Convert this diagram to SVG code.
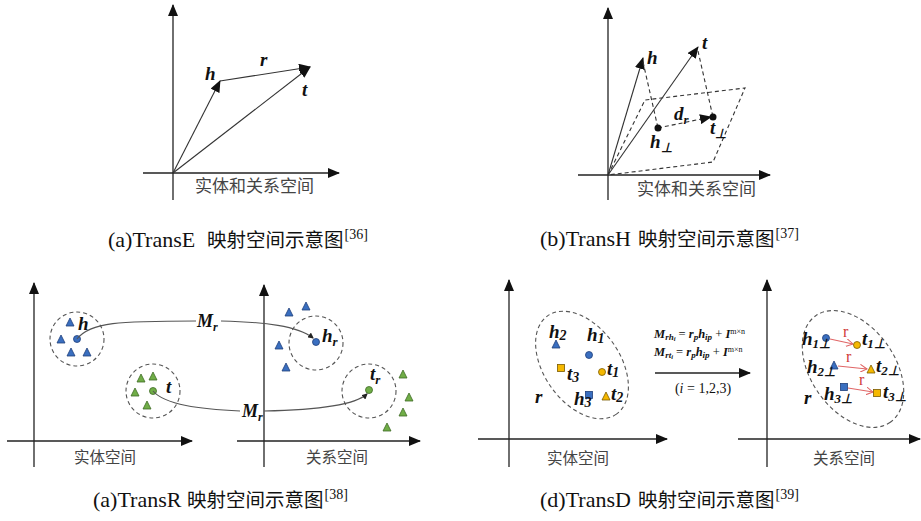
<svg xmlns="http://www.w3.org/2000/svg" width="921" height="521" viewBox="0 0 921 521">
<style>
.ax{stroke:#222;stroke-width:1.3;fill:none}
.vec{stroke:#333;stroke-width:1.1;fill:none}
.dash{stroke:#333;stroke-width:1.1;fill:none;stroke-dasharray:4 3}
.circ{stroke:#555;stroke-width:1.1;fill:none;stroke-dasharray:4 3}
.cur{stroke:#555;stroke-width:1.1;fill:none}
.red{stroke:#e06666;stroke-width:1.1;fill:none}
.cn{font-family:"Noto Sans CJK SC",sans-serif;fill:#444}
.cap{font-family:"Liberation Serif","Noto Sans CJK SC",serif;font-size:22px;fill:#111}
.capc{font-family:"Noto Sans CJK SC",sans-serif;font-size:19.5px;fill:#111}
.m{font-family:"Liberation Serif",serif;font-weight:bold;font-style:italic;fill:#111}
.bl{fill:#3a6fc0;stroke:#1f3f7a;stroke-width:0.8}
.gr{fill:#70ad47;stroke:#3d6b24;stroke-width:0.8}
.ye{fill:#f5b800;stroke:#7a5a00;stroke-width:0.8}
</style>
<defs>
<marker id="ah" viewBox="0 0 12 10" markerWidth="12" markerHeight="10" refX="11" refY="5" orient="auto" markerUnits="userSpaceOnUse"><path d="M0,0 L12,5 L0,10 z" fill="#111"/></marker>
<marker id="vh" viewBox="0 0 12 10" markerWidth="12" markerHeight="10" refX="11" refY="5" orient="auto" markerUnits="userSpaceOnUse"><path d="M0,0 L12,5 L0,10 z" fill="#111"/></marker>
<marker id="sm" viewBox="0 0 6 6" markerWidth="6" markerHeight="6" refX="5" refY="3" orient="auto" markerUnits="userSpaceOnUse"><path d="M0,0 L6,3 L0,6 z" fill="#222"/></marker>
<marker id="ro" viewBox="0 0 8 8" markerWidth="8" markerHeight="8" refX="7" refY="4" orient="auto" markerUnits="userSpaceOnUse"><path d="M0,0 L7,4 L0,8" fill="none" stroke="#e06666" stroke-width="1"/></marker>
</defs>

<g id="transE">
<line class="ax" x1="173" y1="200" x2="173" y2="5" marker-end="url(#ah)"/>
<line class="ax" x1="143" y1="173" x2="339" y2="173" marker-end="url(#ah)"/>
<g id="connectorsE">
<line class="vec" x1="173" y1="173" x2="220" y2="81" marker-end="url(#vh)"/>
<line class="vec" x1="173" y1="173" x2="310" y2="67" marker-end="url(#vh)"/>
<line class="vec" x1="220" y1="81" x2="310" y2="67" marker-end="url(#vh)"/>
</g>
<text class="m" x="205" y="80" font-size="19">h</text>
<text class="m" x="260" y="66" font-size="19">r</text>
<text class="m" x="302" y="96" font-size="19">t</text>
<text class="cn" x="195" y="192" font-size="17">实体和关系空间</text>
</g>

<g id="transH">
<line class="ax" x1="608" y1="200" x2="608" y2="8" marker-end="url(#ah)"/>
<line class="ax" x1="578" y1="175" x2="770" y2="175" marker-end="url(#ah)"/>
<path class="dash" d="M608,175 L645,100 L745,88 L713,162 Z"/>
<g id="connectorsH">
<line class="vec" x1="608" y1="175" x2="643" y2="58" marker-end="url(#vh)"/>
<line class="vec" x1="608" y1="175" x2="698" y2="47" marker-end="url(#vh)"/>
<line class="dash" x1="643" y1="62" x2="658" y2="128"/>
<line class="dash" x1="698" y1="51" x2="713" y2="117"/>
<line class="dash" x1="658" y1="128" x2="711" y2="117" marker-end="url(#vh)"/>
</g>
<circle cx="658" cy="128" r="3.5" fill="#111"/>
<circle cx="713" cy="117" r="3.5" fill="#111"/>
<text class="m" x="647" y="64" font-size="19">h</text>
<text class="m" x="702" y="49" font-size="19">t</text>
<text class="m" x="674" y="120" font-size="19">d<tspan font-size="13" dy="4">r</tspan></text>
<text class="m" x="650" y="148" font-size="19">h<tspan font-size="13" dy="4">⊥</tspan></text>
<text class="m" x="710" y="134" font-size="19">t<tspan font-size="13" dy="4">⊥</tspan></text>
<text class="cn" x="637" y="195" font-size="17">实体和关系空间</text>
</g>

<g id="transR-entity">
<line class="ax" x1="34" y1="467" x2="34" y2="283" marker-end="url(#ah)"/>
<line class="ax" x1="7" y1="441" x2="192" y2="441" marker-end="url(#ah)"/>
<circle class="circ" cx="77" cy="339" r="27"/>
<path class="bl" d="M70,318 L74,326 L66,326 Z M61,335 L65,343 L57,343 Z M71,348 L75,356 L67,356 Z M87,348 L91,356 L83,356 Z"/>
<circle class="bl" cx="77" cy="339" r="3.5"/>
<text class="m" x="78" y="330" font-size="19">h</text>
<circle class="circ" cx="153" cy="391" r="27"/>
<path class="gr" d="M141,374 L145,382 L137,382 Z M153,372 L157,380 L149,380 Z M135,388 L139,396 L131,396 Z M147,401 L151,409 L143,409 Z"/>
<circle class="gr" cx="153" cy="391" r="3.5"/>
<text class="m" x="166" y="393" font-size="19">t</text>
<text class="cn" x="74" y="463" font-size="15.5">实体空间</text>
</g>

<g id="transR-relation">
<line class="ax" x1="264" y1="467" x2="264" y2="285" marker-end="url(#ah)"/>
<line class="ax" x1="237" y1="441" x2="420" y2="441" marker-end="url(#ah)"/>
<circle class="circ" cx="316" cy="343" r="27"/>
<path class="bl" d="M289,308 L293,316 L285,316 Z M306,302 L310,310 L302,310 Z M279,341 L283,349 L275,349 Z M286,363 L290,371 L282,371 Z"/>
<circle class="bl" cx="316" cy="342" r="3.5"/>
<text class="m" x="322" y="342" font-size="19">h<tspan font-size="13" dy="4">r</tspan></text>
<circle class="circ" cx="369" cy="391" r="27"/>
<path class="gr" d="M403,370 L407,378 L399,378 Z M409,393 L413,401 L405,401 Z M403,408 L407,416 L399,416 Z M387,423 L391,431 L383,431 Z"/>
<circle class="gr" cx="369" cy="390" r="3.5"/>
<text class="m" x="370" y="380" font-size="19">t<tspan font-size="13" dy="4">r</tspan></text>
<text class="cn" x="306" y="463" font-size="15.5">关系空间</text>
</g>

<g id="connectorsR">
<path class="cur" d="M77,339 C90,322 120,321 196,321"/>
<path class="cur" d="M221,321 C265,322 298,326 313,338" marker-end="url(#sm)"/>
<path class="cur" d="M153,391 C165,405 200,409 240,411"/>
<path class="cur" d="M264,411 C320,410 355,405 367,394" marker-end="url(#sm)"/>
<text class="m" x="197" y="327" font-size="18">M<tspan font-size="12" dy="4">r</tspan></text>
<text class="m" x="242" y="417" font-size="18">M<tspan font-size="12" dy="4">r</tspan></text>
</g>

<g id="transD-entity">
<line class="ax" x1="509" y1="467" x2="509" y2="280" marker-end="url(#ah)"/>
<line class="ax" x1="478" y1="439" x2="667" y2="439" marker-end="url(#ah)"/>
<ellipse class="circ" cx="582" cy="365" rx="60" ry="38" transform="rotate(55 582 365)"/>
<path class="bl" d="M556,340 L560,348 L552,348 Z"/>
<circle class="bl" cx="589" cy="355" r="3.5"/>
<circle class="ye" cx="602" cy="372" r="3.5"/>
<rect class="ye" x="557.5" y="364.5" width="7" height="7"/>
<rect class="bl" x="585.5" y="391.5" width="7" height="7"/>
<path class="ye" d="M606,392 L610,400 L602,400 Z"/>
<text class="m" x="549" y="338" font-size="19">h<tspan font-size="14" dy="2">2</tspan></text>
<text class="m" x="587" y="341" font-size="19">h<tspan font-size="14" dy="2">1</tspan></text>
<text class="m" x="607" y="375" font-size="19">t<tspan font-size="14" dy="2">1</tspan></text>
<text class="m" x="567" y="380" font-size="19">t<tspan font-size="14" dy="2">3</tspan></text>
<text class="m" x="574" y="405" font-size="19">h<tspan font-size="14" dy="2">3</tspan></text>
<text class="m" x="611" y="400" font-size="19">t<tspan font-size="14" dy="2">2</tspan></text>
<text class="m" x="535" y="403" font-size="19">r</text>
<text class="cn" x="547" y="464" font-size="15.5">实体空间</text>
</g>

<g id="transD-map">
<text class="m" x="654" y="338" font-size="12.5">M<tspan font-size="9" dy="2">rh<tspan font-size="6.5" dy="1">i</tspan></tspan><tspan dy="-3" font-style="normal" font-weight="normal"> = </tspan>r<tspan font-size="9" dy="2">p</tspan><tspan dy="-2">h</tspan><tspan font-size="9" dy="2">ip</tspan><tspan dy="-2" font-style="normal" font-weight="normal"> + </tspan>I<tspan font-size="8" dy="-4" font-style="normal" font-weight="normal">m×n</tspan></text>
<text class="m" x="654" y="356" font-size="12.5">M<tspan font-size="9" dy="2">rt<tspan font-size="6.5" dy="1">i</tspan></tspan><tspan dy="-3" font-style="normal" font-weight="normal"> = </tspan>r<tspan font-size="9" dy="2">p</tspan><tspan dy="-2">h</tspan><tspan font-size="9" dy="2">ip</tspan><tspan dy="-2" font-style="normal" font-weight="normal"> + </tspan>I<tspan font-size="8" dy="-4" font-style="normal" font-weight="normal">m×n</tspan></text>
<line class="ax" x1="655" y1="373" x2="750" y2="373" marker-end="url(#ah)"/>
<text x="703" y="393" font-family="Liberation Serif,serif" font-size="14" fill="#111" text-anchor="middle">(<tspan font-style="italic">i</tspan> = 1,2,3)</text>
</g>

<g id="transD-relation">
<line class="ax" x1="767" y1="467" x2="767" y2="280" marker-end="url(#ah)"/>
<line class="ax" x1="738" y1="439" x2="920" y2="439" marker-end="url(#ah)"/>
<ellipse class="circ" cx="853" cy="369" rx="65" ry="42" transform="rotate(55 853 369)"/>
<g id="connectorsD">
<line class="red" x1="830" y1="339" x2="853" y2="344" marker-end="url(#ro)"/>
<line class="red" x1="838" y1="366" x2="867" y2="369" marker-end="url(#ro)"/>
<line class="red" x1="848" y1="388" x2="873" y2="392" marker-end="url(#ro)"/>
</g>
<circle class="bl" cx="826" cy="338" r="3.5"/>
<circle class="ye" cx="857" cy="345" r="3.5"/>
<path class="bl" d="M834,361 L838,369 L830,369 Z"/>
<path class="ye" d="M871,365 L875,373 L867,373 Z"/>
<rect class="bl" x="840.5" y="383.5" width="7" height="7"/>
<rect class="ye" x="873.5" y="389.5" width="7" height="7"/>
<text x="843" y="337" font-family="Liberation Serif,serif" font-size="16" fill="#d03a3a">r</text>
<text x="846" y="362" font-family="Liberation Serif,serif" font-size="16" fill="#d03a3a">r</text>
<text x="859" y="385" font-family="Liberation Serif,serif" font-size="16" fill="#d03a3a">r</text>
<text class="m" x="802" y="345" font-size="19">h<tspan font-size="13" dy="3">1⊥</tspan></text>
<text class="m" x="862" y="345" font-size="19">t<tspan font-size="13" dy="3">1⊥</tspan></text>
<text class="m" x="807" y="373" font-size="19">h<tspan font-size="13" dy="3">2⊥</tspan></text>
<text class="m" x="876" y="372" font-size="19">t<tspan font-size="13" dy="3">2⊥</tspan></text>
<text class="m" x="824" y="400" font-size="19">h<tspan font-size="13" dy="3">3⊥</tspan></text>
<text class="m" x="883" y="398" font-size="19">t<tspan font-size="13" dy="3">3⊥</tspan></text>
<text class="m" x="804" y="404" font-size="19">r</text>
<text class="cn" x="813" y="464" font-size="15.5">关系空间</text>
</g>

<g id="captions">
<text class="cap" x="108" y="247">(a)TransE<tspan class="capc" x="207">映射空间示意图</tspan><tspan font-size="14" dx="1" dy="-8">[36]</tspan></text>
<text class="cap" x="540" y="246">(b)TransH<tspan class="capc" x="638">映射空间示意图</tspan><tspan font-size="14" dx="1" dy="-8">[37]</tspan></text>
<text class="cap" x="93" y="507">(a)TransR<tspan class="capc" x="187">映射空间示意图</tspan><tspan font-size="14" dx="1" dy="-8">[38]</tspan></text>
<text class="cap" x="540" y="507">(d)TransD<tspan class="capc" x="638">映射空间示意图</tspan><tspan font-size="14" dx="1" dy="-8">[39]</tspan></text>
</g>
</svg>
